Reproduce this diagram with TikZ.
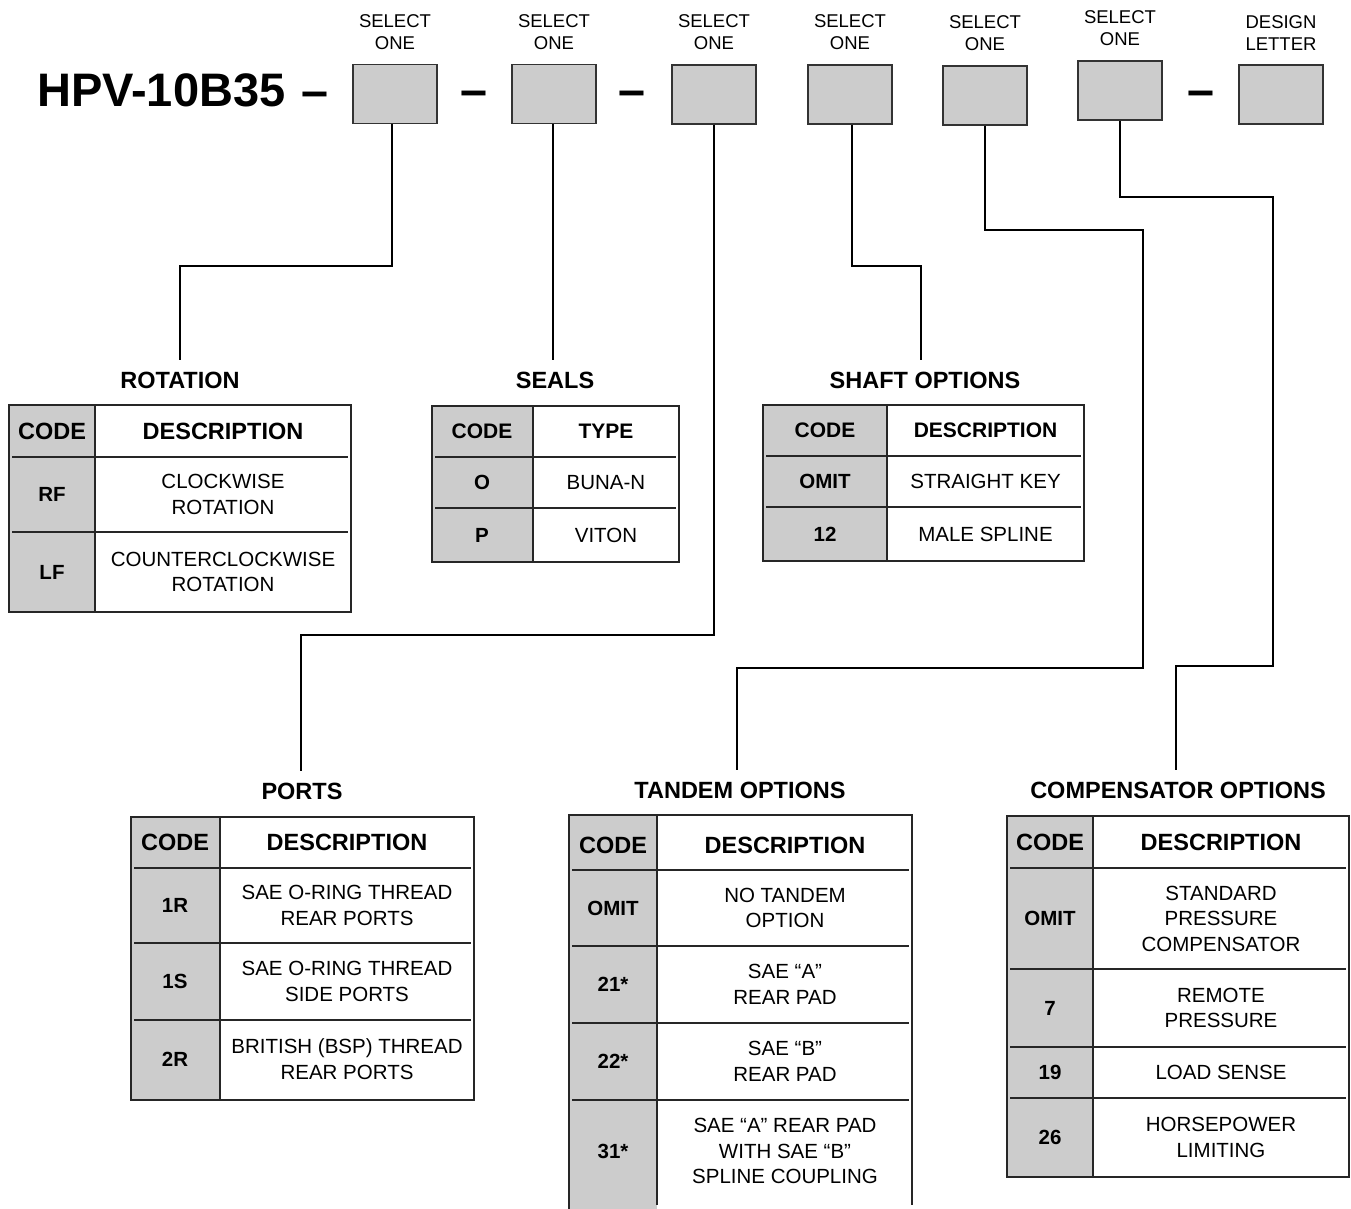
\documentclass[tikz,border=0pt]{standalone}
\usepackage{fontspec}
\setmainfont{Liberation Sans}
\definecolor{boxgray}{HTML}{CCCCCC}
\newcommand{\codetable}[6]{%
  \fill[boxgray] (#1,#4) rectangle (#2,#5);
  \draw[tline] (#1,#4) rectangle (#3,#5);
  \draw[tline] (#2,#4) -- (#2,#5);
  \foreach \yy in {#6} {\draw[tline] (#1+3,\yy) -- (#3-3,\yy);}
}
\begin{document}
\begin{tikzpicture}[x=1pt,y=-1pt,
  selbox/.style={draw=black!80,fill=boxgray,line width=1.4pt,minimum width=84pt,minimum height=59pt,inner sep=0pt},
  toplab/.style={align=center,font=\fontsize{18.5}{22}\selectfont,inner sep=0pt},
  big/.style={font=\fontsize{47}{52}\selectfont\bfseries,inner sep=0pt},
  dsh/.style={font=\fontsize{48.5}{52}\selectfont\bfseries,inner sep=0pt,anchor=base},
  ttl/.style={font=\fontsize{23.5}{28}\selectfont\bfseries,inner sep=0pt,outer sep=12pt},
  hdr/.style={font=\fontsize{23.5}{28}\selectfont\bfseries,inner sep=0pt},
  hdrs/.style={font=\fontsize{21}{25}\selectfont\bfseries,inner sep=0pt},
  cd/.style={font=\fontsize{20.5}{25}\selectfont\bfseries,inner sep=0pt},
  ds/.style={font=\fontsize{20.5}{25.5}\selectfont,align=center,inner sep=0pt},
  tline/.style={draw=black!85,line width=1.2pt},
  conn/.style={draw=black,line width=1.2pt}
]
\useasboundingbox (0,0) rectangle (1351,1209);

% ---------- top row ----------
\node[big,anchor=base west] (code) at (37,107) {HPV-10B35};
\node[dsh] (d0) at (315,108) {--};
\node[selbox] (b1) at (395,94) {};
\node[dsh] (d1) at (473.5,106.5) {--};
\node[selbox] (b2) at (554,94) {};
\node[dsh] (d2) at (632,106.5) {--};
\node[selbox] (b3) at (714,94.5) {};
\node[selbox] (b4) at (850,94.5) {};
\node[selbox] (b5) at (985,95.5) {};
\node[selbox] (b6) at (1120,90.5) {};
\node[dsh] (d3) at (1201,106.5) {--};
\node[selbox] (b7) at (1281,94.5) {};

\node[toplab] (l1) at (395,32.5) {SELECT\\ONE};
\node[toplab] (l2) at (554,32.5) {SELECT\\ONE};
\node[toplab] (l3) at (714,32.5) {SELECT\\ONE};
\node[toplab] (l4) at (850,32.5) {SELECT\\ONE};
\node[toplab] (l5) at (985,33.5) {SELECT\\ONE};
\node[toplab] (l6) at (1120,28.5) {SELECT\\ONE};
\node[toplab] (l7) at (1281,33.5) {DESIGN\\LETTER};

% ---------- titles ----------
\node[ttl] (rotT) at (180,380) {ROTATION};
\node[ttl] (sealT) at (555,380) {SEALS};
\node[ttl] (shaftT) at (925,380) {SHAFT OPTIONS};
\node[ttl] (portT) at (302,791) {PORTS};
\node[ttl] (tandT) at (740,790) {TANDEM OPTIONS};
\node[ttl] (compT) at (1178,790) {COMPENSATOR OPTIONS};

% ---------- connectors ----------
\coordinate (k1) at (180,266);
\coordinate (k3) at (301,635);
\coordinate (k4) at (921,266);
\coordinate (k5a) at (1143,230);
\coordinate (k5b) at (737,668);
\coordinate (k6a) at (1273,197);
\coordinate (k6b) at (1176,666);
\draw[conn] ([xshift=-3pt]b1.south) |- (k1) -- (k1 |- rotT.north);
\draw[conn] ([xshift=-1pt]b2.south) -- ([xshift=-1pt]b2.south |- sealT.north);
\draw[conn] (b3.south) |- (k3) -- (k3 |- portT.north);
\draw[conn] ([xshift=2pt]b4.south) |- (k4) -- (k4 |- shaftT.north);
\draw[conn] (b5.south) |- (k5a) |- (k5b) -- (k5b |- tandT.north);
\draw[conn] (b6.south) |- (k6a) |- (k6b) -- (k6b |- compT.north);

% ---------- ROTATION ----------
\codetable{9}{95}{351}{405}{612}{457,532}
\node[hdr] (rotH1) at (52,431) {CODE};
\node[hdr] (rotH2) at (223,431) {DESCRIPTION};
\node[cd] (rotC1) at (52,494.5) {RF};
\node[ds] (rotD1) at (223,494.5) {CLOCKWISE\\ROTATION};
\node[cd] (rotC2) at (52,572) {LF};
\node[ds] (rotD2) at (223,572) {COUNTERCLOCKWISE\\ROTATION};

% ---------- SEALS ----------
\codetable{432}{533}{679}{406}{562}{457,508}
\node[hdrs] (sealH1) at (482,431.5) {CODE};
\node[hdrs] (sealH2) at (606,431.5) {TYPE};
\node[cd] (sealC1) at (482,482.5) {O};
\node[ds] (sealD1) at (606,482.5) {BUNA-N};
\node[cd] (sealC2) at (482,535) {P};
\node[ds] (sealD2) at (606,535) {VITON};

% ---------- SHAFT ----------
\codetable{763}{887}{1084}{405}{561}{456,507}
\node[hdrs] (shH1) at (825,430.5) {CODE};
\node[hdrs] (shH2) at (985.5,430.5) {DESCRIPTION};
\node[cd] (shC1) at (825,481.5) {OMIT};
\node[ds] (shD1) at (985.5,481.5) {STRAIGHT KEY};
\node[cd] (shC2) at (825,534) {12};
\node[ds] (shD2) at (985.5,534) {MALE SPLINE};

% ---------- PORTS ----------
\codetable{131}{220}{474}{817}{1100}{868,943,1020}
\node[hdr] (poH1) at (175,842.5) {CODE};
\node[hdr] (poH2) at (347,842.5) {DESCRIPTION};
\node[cd] (poC1) at (175,905.5) {1R};
\node[ds] (poD1) at (347,905.5) {SAE O-RING THREAD\\REAR PORTS};
\node[cd] (poC2) at (175,981.5) {1S};
\node[ds] (poD2) at (347,981.5) {SAE O-RING THREAD\\SIDE PORTS};
\node[cd] (poC3) at (175,1059) {2R};
\node[ds] (poD3) at (347,1059) {BRITISH (BSP) THREAD\\REAR PORTS};

% ---------- TANDEM ----------
\fill[boxgray] (569,815) rectangle (657,1209);
\draw[tline] (569,1209) -- (569,815) -- (912,815) -- (912,1205);
\draw[tline] (657,815) -- (657,1205);
\foreach \yy in {870,946,1023,1100} {\draw[tline] (572,\yy) -- (909,\yy);}
\node[hdr] (taH1) at (613,845) {CODE};
\node[hdr] (taH2) at (785,845) {DESCRIPTION};
\node[cd] (taC1) at (613,908) {OMIT};
\node[ds] (taD1) at (785,908) {NO TANDEM\\OPTION};
\node[cd] (taC2) at (613,984.5) {21*};
\node[ds] (taD2) at (785,984.5) {SAE “A”\\REAR PAD};
\node[cd] (taC3) at (613,1061.5) {22*};
\node[ds] (taD3) at (785,1061.5) {SAE “B”\\REAR PAD};
\node[cd] (taC4) at (613,1151) {31*};
\node[ds] (taD4) at (785,1151) {SAE “A” REAR PAD\\WITH SAE “B”\\SPLINE COUPLING};

% ---------- COMPENSATOR ----------
\codetable{1007}{1093}{1349}{816}{1177}{868,969,1047,1098}
\node[hdr] (coH1) at (1050,842) {CODE};
\node[hdr] (coH2) at (1221,842) {DESCRIPTION};
\node[cd] (coC1) at (1050,918.5) {OMIT};
\node[ds] (coD1) at (1221,918.5) {STANDARD\\PRESSURE\\COMPENSATOR};
\node[cd] (coC2) at (1050,1008) {7};
\node[ds] (coD2) at (1221,1008) {REMOTE\\PRESSURE};
\node[cd] (coC3) at (1050,1072.5) {19};
\node[ds] (coD3) at (1221,1072.5) {LOAD SENSE};
\node[cd] (coC4) at (1050,1137.5) {26};
\node[ds] (coD4) at (1221,1137.5) {HORSEPOWER\\LIMITING};
\end{tikzpicture}
\end{document}
